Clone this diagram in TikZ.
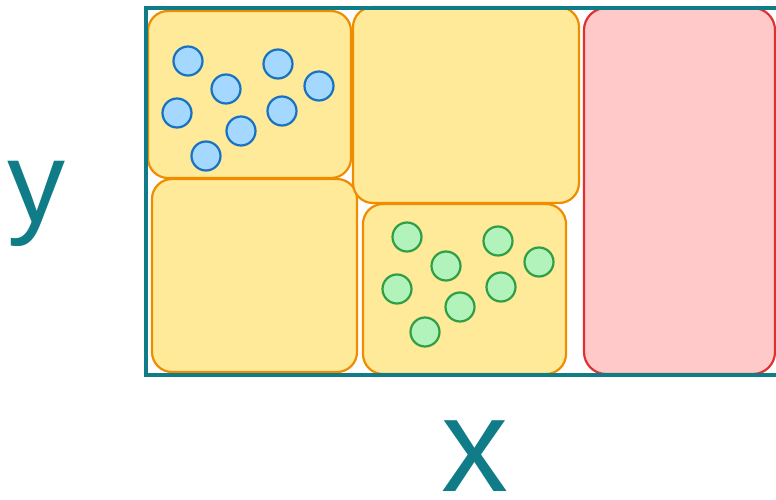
\documentclass[tikz,border=0pt]{standalone}
\usepackage{fontspec}
\newfontfamily\axisfont{Liberation Sans}
\definecolor{framecol}{HTML}{0F7C88}
\definecolor{cellline}{HTML}{F08C00}
\definecolor{cellfill}{HTML}{FFEA99}
\definecolor{hotline}{HTML}{E03131}
\definecolor{hotfill}{HTML}{FFC9C9}
\definecolor{blueline}{HTML}{1971C2}
\definecolor{bluefill}{HTML}{A5D8FF}
\definecolor{greenline}{HTML}{2F9E44}
\definecolor{greenfill}{HTML}{B2F2BB}

\begin{document}
\begin{tikzpicture}[x=1pt,y=-1pt,
cell/.style={draw=cellline, fill=cellfill, line width=2.2pt, rounded corners=20pt},
hot/.style={draw=hotline, fill=hotfill, line width=2.2pt, rounded corners=22pt},
frame/.style={draw=framecol, line width=3.4pt},
bluedot/.style={circle, draw=blueline, fill=bluefill, line width=2.2pt, minimum size=29pt, inner sep=0pt},
greendot/.style={circle, draw=greenline, fill=greenfill, line width=2.2pt, minimum size=29pt, inner sep=0pt},
axis/.style={text=framecol, anchor=base, inner sep=0pt},
]
\useasboundingbox (0,0) rectangle (776,500);

% regions
\draw[cell] (148,11) rectangle (351,178);
\draw[cell] (152,179) rectangle (357,372);
\draw[cell] (353,7) rectangle (579,203);
\draw[cell] (363,204) rectangle (566,374);
\draw[hot] (584,8) rectangle (775,374);

% outer frame
\draw[frame] (146,8) rectangle (778,375);

% points
\foreach \p [count=\i] in {(188,61),(226,89),(278,64),(319,86),(177,113),(282,111),(241,131),(206,156)}
  \node[bluedot] (b\i) at \p {};
\foreach \p [count=\i] in {(407,237),(446,266),(498,241),(539,262),(397,289),(501,287),(460,307),(425,332)}
  \node[greendot] (g\i) at \p {};

% axes
\node[axis, font=\axisfont\fontsize{116}{116}\selectfont] (ylab) at (36,222) {y};
\node[axis, text depth=0pt, font=\axisfont\fontsize{134}{134}\selectfont] (xlab) at (475,491) {x};
\end{tikzpicture}
\end{document}
